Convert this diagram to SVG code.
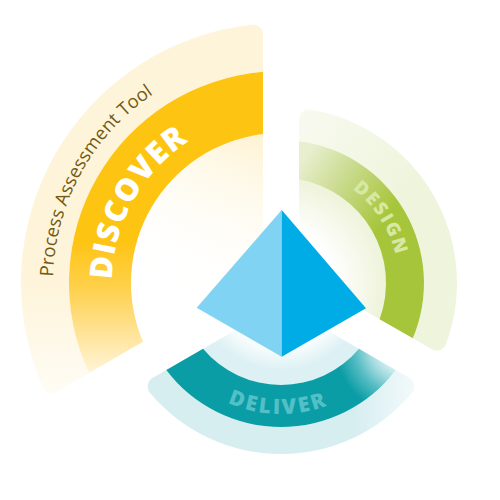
<svg xmlns="http://www.w3.org/2000/svg" width="500" height="500" viewBox="0 0 500 500">
<defs>
<style>
.big{font-family:"Open Sans","Liberation Sans",sans-serif;font-weight:800}
.sub{font-family:"Open Sans","Liberation Sans",sans-serif;font-weight:500;font-size:18.5px;fill:#735A12}
</style>
<linearGradient id="gDiscRing" gradientUnits="userSpaceOnUse" x1="0" y1="240" x2="0" y2="382">
<stop offset="0" stop-color="#FEC412"/>
<stop offset="0.35" stop-color="#FED14E"/>
<stop offset="0.7" stop-color="#FFE6A2"/>
<stop offset="1" stop-color="#FFF8E6"/>
</linearGradient>
<linearGradient id="gDiscBand" gradientUnits="userSpaceOnUse" x1="0" y1="280" x2="0" y2="405">
<stop offset="0" stop-color="#FEF4DA"/>
<stop offset="1" stop-color="#FFFDF8"/>
</linearGradient>
<linearGradient id="gDiscIn" gradientUnits="userSpaceOnUse" x1="258" y1="135" x2="185" y2="295">
<stop offset="0" stop-color="#FEF3D4"/>
<stop offset="1" stop-color="#FFFFFF" stop-opacity="0"/>
</linearGradient>
<linearGradient id="gDesRing" gradientUnits="userSpaceOnUse" x1="303" y1="158" x2="388" y2="215">
<stop offset="0" stop-color="#E8EFD0"/>
<stop offset="0.45" stop-color="#C9DB8E"/>
<stop offset="1" stop-color="#A7C53A"/>
</linearGradient>
<linearGradient id="gDesBand" gradientUnits="userSpaceOnUse" x1="300" y1="108" x2="400" y2="190">
<stop offset="0" stop-color="#F8FAF0"/>
<stop offset="1" stop-color="#EFF5DD"/>
</linearGradient>
<radialGradient id="gDesIn" gradientUnits="userSpaceOnUse" cx="281" cy="283" r="105">
<stop offset="0.5" stop-color="#EEF3DA" stop-opacity="0"/>
<stop offset="1" stop-color="#EEF3DA"/>
</radialGradient>
<radialGradient id="gDelRing" gradientUnits="userSpaceOnUse" cx="405" cy="345" r="82">
<stop offset="0" stop-color="#FFFFFF"/>
<stop offset="0.3" stop-color="#D8F0F2"/>
<stop offset="0.45" stop-color="#A0DADE"/>
<stop offset="0.62" stop-color="#56BCC3"/>
<stop offset="0.85" stop-color="#0B9DA6"/>
</radialGradient>
<linearGradient id="gDelBand" gradientUnits="userSpaceOnUse" x1="355" y1="0" x2="422" y2="0">
<stop offset="0" stop-color="#D7EEF1"/>
<stop offset="1" stop-color="#F6FBFC"/>
</linearGradient>
<radialGradient id="gDelIn" gradientUnits="userSpaceOnUse" cx="281" cy="283" r="102">
<stop offset="0.6" stop-color="#DDF1F4" stop-opacity="0"/>
<stop offset="0.85" stop-color="#DDF1F4"/>
</radialGradient>
<path id="pPath" d="M 66.7 361 A 228 228 0 0 1 241.4 58.5"/>
<path id="dPath" d="M 122.2 340.8 A 169 169 0 0 1 251.65 116.6"/>
<path id="sPath" d="M 301.5 166.8 A 118 118 0 0 1 391.9 323.4"/>
<path id="lPath" d="M 157.9 327.8 A 131 131 0 0 0 404.1 327.8"/>
</defs>
<rect width="500" height="500" fill="#FFFFFF"/>
<g id="discover">
<path d="M 263 272.6 L 263 134.08 A 150 150 0 0 0 143.03 341.87 Z" fill="url(#gDiscIn)"/>
<path d="M 263 71.77 L 263 34.57 A 10 10 0 0 0 251.88 24.63 A 260 260 0 0 0 42.69 386.97 A 10 10 0 0 0 56.86 391.63 L 89.07 373.03 A 212 212 0 0 1 263 71.77 Z" fill="url(#gDiscBand)"/>
<path d="M 263 71.77 A 212 212 0 0 0 89.07 373.03 L 143.03 341.87 A 150 150 0 0 1 263 134.08 Z" fill="url(#gDiscRing)"/>
<text class="sub"><textPath href="#pPath" startOffset="194" text-anchor="middle">Process Assessment Tool</textPath></text>
<text class="big" font-size="31" letter-spacing="1.2" fill="#FFFFFF"><textPath href="#dPath" startOffset="145" text-anchor="middle">DISCOVER</textPath></text>
</g>
<g id="design">
<path d="M 299 272.6 L 299 179.56 A 105 105 0 0 1 379.58 319.13 Z" fill="url(#gDesIn)"/>
<path d="M 299 141.14 L 299 119.38 A 10 10 0 0 1 310.69 109.52 A 176 176 0 0 1 446.06 344.03 A 10 10 0 0 1 431.69 349.22 L 412.85 338.34 A 143 143 0 0 0 299 141.14 Z" fill="url(#gDesBand)"/>
<path d="M 299 141.14 A 143 143 0 0 1 412.85 338.34 L 379.58 319.13 A 105 105 0 0 0 299 179.56 Z" fill="url(#gDesRing)"/>
<text class="big" font-size="18.5" letter-spacing="2" fill="#D7E8A4"><textPath href="#sPath" startOffset="97" text-anchor="middle">DESIGN</textPath></text>
</g>
<g id="deliver">
<path d="M 281 303.8 L 203.05 348.79 A 102 102 0 0 0 358.95 348.79 Z" fill="url(#gDelIn)"/>
<path d="M 166.27 370.03 L 152.7 377.87 A 10 10 0 0 0 150.04 392.96 A 171 171 0 0 0 411.96 392.96 A 10 10 0 0 0 409.3 377.87 L 395.73 370.03 A 144 144 0 0 1 166.27 370.03 Z" fill="url(#gDelBand)"/>
<path d="M 166.27 370.03 A 144 144 0 0 0 395.73 370.03 L 358.95 348.79 A 102 102 0 0 1 203.05 348.79 Z" fill="url(#gDelRing)"/>
<text class="big" font-size="21" letter-spacing="2.5" fill="#52C0C6"><textPath href="#lPath" startOffset="157" text-anchor="middle">DELIVER</textPath></text>
</g>
<g id="pyramid">
<polygon points="281.7,210 196.7,307.7 281.7,356.7" fill="#80D3F2"/>
<polygon points="281.7,210 366,308.3 281.7,356.7" fill="#00ACE6"/>
</g>
</svg>
